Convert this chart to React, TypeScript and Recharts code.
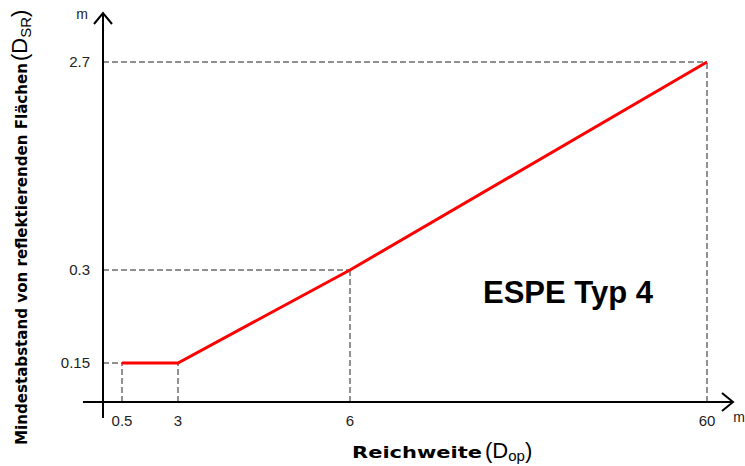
import React from 'react';
import { LineChart, Line, XAxis, YAxis, ReferenceLine } from 'recharts';

// Reichweite (m) and Mindestabstand (m) of the red curve
const xValues = [0.5, 3, 6, 60];
const yValues = [0.15, 0.15, 0.3, 2.7];

const xTickLabels = ['0.5', '3', '6', '60'];
const yTickValues = [0.15, 0.3, 2.7];
const yTickLabels = ['0.15', '0.3', '2.7'];

// the drawing uses a schematic (non linear) scale on both axes:
// each break value sits at a fixed slot of the axis
const xBreaks = [0, 0.5, 3, 6, 60];
const xSlots = [0, 19, 75, 247, 604];
const yBreaks = [0, 0.15, 0.3, 2.7];
const ySlots = [0, 39, 132, 340];

const piecewise = (v: number, breaks: number[], slots: number[]) => {
  for (let i = 1; i < breaks.length; i++) {
    if (v <= breaks[i] || i === breaks.length - 1) {
      const t = (v - breaks[i - 1]) / (breaks[i] - breaks[i - 1]);
      return slots[i - 1] + t * (slots[i] - slots[i - 1]);
    }
  }
  return 0;
};
const sx = (v: number) => piecewise(v, xBreaks, xSlots);
const sy = (v: number) => piecewise(v, yBreaks, ySlots);

const data = xValues.map((x, i) => ({ x: sx(x), y: sy(yValues[i]) }));

const xTicks = xValues.map(sx);
const yTicks = yTickValues.map(sy);

// horizontal guides run from the y axis to the first point of each level
const levels = yTickValues.map((yv) => {
  const idx = yValues.findIndex((v) => v === yv);
  return { x: sx(xValues[idx]), y: sy(yv) };
});

const FONT = '"Liberation Sans", Arial, sans-serif';
const TITLE_FONT = '"DejaVu Sans", sans-serif';

const findLabel = (v: number, ticks: number[], labels: string[]) => {
  const i = ticks.findIndex((t) => Math.abs(t - v) < 1e-6);
  return i >= 0 ? labels[i] : '';
};

const XTick = (props: any) => {
  const { x, y, payload } = props;
  return (
    <text x={x} y={y} dy={6} textAnchor="middle" fontFamily={FONT} fontSize={15} fill="#222">
      {findLabel(payload.value, xTicks, xTickLabels)}
    </text>
  );
};

const YTick = (props: any) => {
  const { x, y, payload } = props;
  return (
    <text x={x + 9} y={y} dy={5} textAnchor="end" fontFamily={FONT} fontSize={15} fill="#222">
      {findLabel(payload.value, yTicks, yTickLabels)}
    </text>
  );
};

const ArrowLine = (props: any) => {
  const { x1, y1, x2, y2 } = props;
  const len = Math.hypot(x2 - x1, y2 - y1) || 1;
  const ux = (x2 - x1) / len;
  const uy = (y2 - y1) / len;
  const back = 11;
  const spread = 9;
  const ax = x2 - ux * back;
  const ay = y2 - uy * back;
  return (
    <g>
      <line x1={x1} y1={y1} x2={x2} y2={y2} stroke="#000" strokeWidth={2} />
      <polyline
        points={`${ax - uy * spread},${ay + ux * spread} ${x2},${y2} ${ax + uy * spread},${ay - ux * spread}`}
        fill="none"
        stroke="#000"
        strokeWidth={2}
      />
    </g>
  );
};

export default function App() {
  return (
    <div style={{ position: 'absolute', left: 0, top: 0, width: 745, height: 466, background: '#fff' }}>
      <LineChart width={745} height={466} data={data} margin={{ top: 13, right: 10, bottom: 18, left: 0 }}>
        <XAxis
          type="number"
          dataKey="x"
          domain={[-20, 632]}
          ticks={xTicks}
          height={30}
          axisLine={false}
          tickLine={false}
          tickSize={0}
          tick={XTick}
          allowDataOverflow
        />
        <YAxis
          type="number"
          domain={[-16, 389]}
          ticks={yTicks}
          width={83}
          axisLine={false}
          tickLine={false}
          tickSize={0}
          tick={YTick}
          allowDataOverflow
        />
        {data.map((p, i) => (
          <ReferenceLine
            key={`v${i}`}
            segment={[{ x: p.x, y: 0 }, { x: p.x, y: p.y }]}
            stroke="#222"
            strokeDasharray="6 3"
            strokeWidth={1}
          />
        ))}
        {levels.map((p, i) => (
          <ReferenceLine
            key={`h${i}`}
            segment={[{ x: 0, y: p.y }, { x: p.x, y: p.y }]}
            stroke="#222"
            strokeDasharray="6 3"
            strokeWidth={1}
          />
        ))}
        <ReferenceLine segment={[{ x: -20, y: 0 }, { x: 630, y: 0 }]} shape={ArrowLine} />
        <ReferenceLine segment={[{ x: 0, y: -16 }, { x: 0, y: 389 }]} shape={ArrowLine} />
        <Line
          type="linear"
          dataKey="y"
          stroke="#ff0000"
          strokeWidth={3}
          dot={false}
          isAnimationActive={false}
        />
        <text x={82} y={19} textAnchor="middle" fontFamily={FONT} fontSize={14} fill="#222">m</text>
        <text x={739} y={422} textAnchor="middle" fontFamily={FONT} fontSize={14} fill="#222">m</text>
        <text x={568} y={303} textAnchor="middle" fontFamily={FONT} fontSize={31} fontWeight="bold" fill="#000">
          ESPE Typ 4
        </text>
        <text
          x={352}
          y={458}
          fontFamily={TITLE_FONT}
          fontWeight="bold"
          fontSize={15}
          textLength={130}
          lengthAdjust="spacingAndGlyphs"
          fill="#000"
        >
          Reichweite
        </text>
        <text x={485} y={458} fontFamily={FONT} fontSize={22} fill="#000">
          (D<tspan fontSize={15} dy={3}>op</tspan><tspan dy={-3}>)</tspan>
        </text>
        <g transform="translate(27,445) rotate(-90)">
          <text
            x={0}
            y={0}
            fontFamily={TITLE_FONT}
            fontWeight="bold"
            fontSize={16}
            textLength={382}
            lengthAdjust="spacingAndGlyphs"
            fill="#000"
          >
            Mindestabstand von reflektierenden Flächen
          </text>
          <text x={384} y={0} fontFamily={FONT} fontSize={22} fill="#000">
            (D<tspan fontSize={15} dy={4}>SR</tspan><tspan dy={-4}>)</tspan>
          </text>
        </g>
      </LineChart>
    </div>
  );
}
